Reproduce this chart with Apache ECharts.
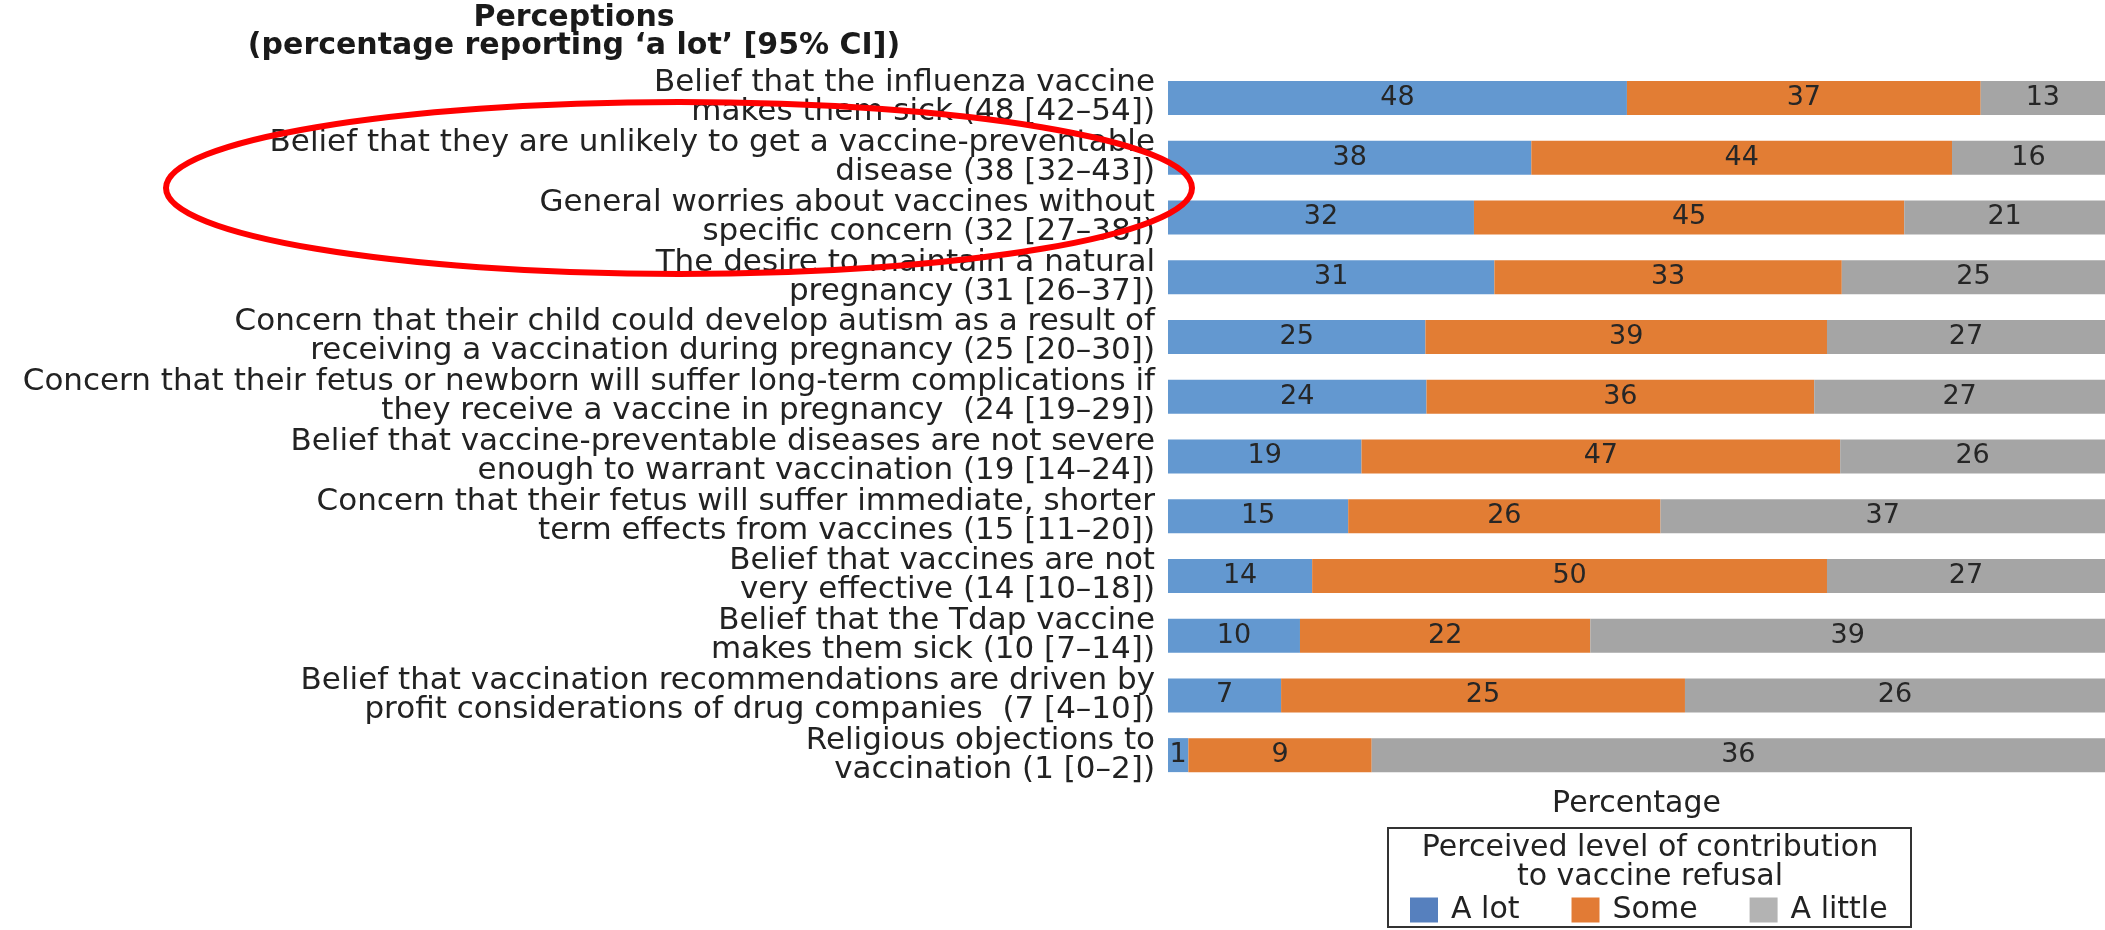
<!DOCTYPE html>
<html>
<head>
<meta charset="utf-8">
<title>Perceptions - vaccine refusal</title>
<script src="https://cdn.jsdelivr.net/npm/echarts@6/dist/echarts.min.js"></script>
<style>
  html, body { margin: 0; padding: 0; background: #fff; }
  #chart { width: 2105px; height: 930px; }
</style>
</head>
<body>
<div id="chart"></div>
<script>
// categories, top to bottom (line breaks as in the figure)
const perceptions = [
  "Belief that the influenza vaccine\nmakes them sick (48 [42–54])",
  "Belief that they are unlikely to get a vaccine-preventable\ndisease (38 [32–43])",
  "General worries about vaccines without\nspecific concern (32 [27–38])",
  "The desire to maintain a natural\npregnancy (31 [26–37])",
  "Concern that their child could develop autism as a result of\nreceiving a vaccination during pregnancy (25 [20–30])",
  "Concern that their fetus or newborn will suffer long-term complications if\nthey receive a vaccine in pregnancy  (24 [19–29])",
  "Belief that vaccine-preventable diseases are not severe\nenough to warrant vaccination (19 [14–24])",
  "Concern that their fetus will suffer immediate, shorter\nterm effects from vaccines (15 [11–20])",
  "Belief that vaccines are not\nvery effective (14 [10–18])",
  "Belief that the Tdap vaccine\nmakes them sick (10 [7–14])",
  "Belief that vaccination recommendations are driven by\nprofit considerations of drug companies  (7 [4–10])",
  "Religious objections to\nvaccination (1 [0–2])"
]

// perceived level of contribution to vaccine refusal (%)
const aLot = [48, 38, 32, 31, 25, 24, 19, 15, 14, 10, 7, 1]
const some = [37, 44, 45, 33, 39, 36, 47, 26, 50, 22, 25, 9]
const aLittle = [13, 16, 21, 25, 27, 27, 26, 37, 27, 39, 26, 36]

const seriesNames = ["A lot", "Some", "A little"]

const chart = echarts.init(document.getElementById("chart"))

// each bar is drawn as share of the row total so all rows fill the width
const rowTotal = aLot.map((v, i) => v + some[i] + aLittle[i])
const share = (arr) => arr.map((v, i) => (v / rowTotal[i]) * 100)

const font = "DejaVu Sans"

const makeSeries = (name, raw, color) => ({
  name: name,
  type: "bar",
  stack: "total",
  barWidth: 34,
  itemStyle: { color: color },
  label: {
    show: true,
    position: "inside",
    color: "#262626",
    fontFamily: font,
    fontSize: 27,
    formatter: (p) => raw[p.dataIndex]
  },
  data: share(raw)
})

const options = {
  animation: false,
  backgroundColor: "#fff",
  grid: {
    left: 1168,
    right: 0,
    top: 68,
    bottom: 145
  },
  xAxis: {
    type: "value",
    min: 0,
    max: 100,
    axisLine: { show: false },
    axisTick: { show: false },
    axisLabel: { show: false },
    splitLine: { show: false },
    name: "Percentage",
    nameLocation: "middle",
    nameGap: 4,
    nameTextStyle: {
      color: "#222",
      fontFamily: font,
      fontSize: 30
    }
  },
  yAxis: {
    type: "category",
    inverse: true,
    data: perceptions,
    axisLine: { show: false },
    axisTick: { show: false },
    axisLabel: {
      interval: 0,
      margin: 13,
      color: "#222",
      fontFamily: font,
      fontSize: 31,
      lineHeight: 29,
      align: "right"
    }
  },
  legend: {
    left: 1405,
    top: 890,
    icon: "rect",
    itemWidth: 28,
    itemHeight: 25,
    itemGap: 52,
    textStyle: {
      color: "#222",
      fontFamily: font,
      fontSize: 30,
      padding: [0, 0, 0, 8]
    },
    data: [
      { name: "A lot", itemStyle: { color: "#5680BE" } },
      { name: "Some", itemStyle: { color: "#E27B35" } },
      { name: "A little", itemStyle: { color: "#B3B3B3" } }
    ]
  },
  graphic: [
    {
      // heading above the category labels
      type: "text",
      x: 574,
      y: 4,
      style: {
        text: "Perceptions\n(percentage reporting ‘a lot’ [95% CI])",
        align: "center",
        verticalAlign: "top",
        fill: "#1a1a1a",
        font: "bold 30px 'DejaVu Sans'",
        lineHeight: 28
      }
    },
    {
      // legend frame
      type: "rect",
      shape: { x: 1388, y: 828, width: 523, height: 99 },
      style: { fill: "none", stroke: "#333", lineWidth: 2 }
    },
    {
      type: "text",
      x: 1650,
      y: 834,
      style: {
        text: "Perceived level of contribution\nto vaccine refusal",
        align: "center",
        verticalAlign: "top",
        fill: "#222",
        font: "30px 'DejaVu Sans'",
        lineHeight: 29
      }
    },
    {
      // red annotation ring
      type: "ellipse",
      z: 100,
      shape: { cx: 679, cy: 188, rx: 513, ry: 86 },
      style: { fill: "none", stroke: "#ff0000", lineWidth: 6 }
    }
  ],
  series: [
    makeSeries(seriesNames[0], aLot, "#6398D0"),
    makeSeries(seriesNames[1], some, "#E27D34"),
    makeSeries(seriesNames[2], aLittle, "#A5A5A5")
  ]
}

chart.setOption(options)
window.onresize = function () {
  chart.resize()
}
</script>
</body>
</html>
